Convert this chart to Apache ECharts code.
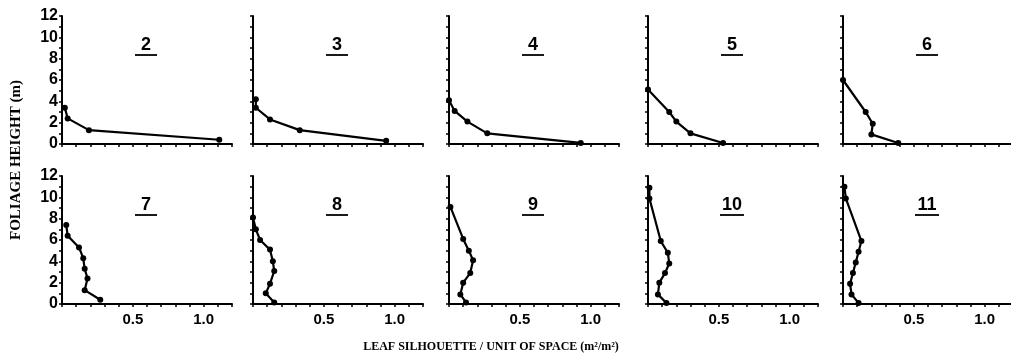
<!DOCTYPE html>
<html>
<head>
<meta charset="utf-8">
<script src="https://cdn.jsdelivr.net/npm/echarts@6/dist/echarts.min.js"></script>
<style>
  html, body { margin: 0; padding: 0; background: #fff; }
  #chart { width: 1011px; height: 355px; }
</style>
</head>
<body>
<div id="chart"></div>
<script>
// panel numbers, in reading order (top row then bottom row)
var panelNames = ['2', '3', '4', '5', '6', '7', '8', '9', '10', '11']

// [leaf silhouette, height (m)], top point first
var panel2 = [[0.02, 3.4], [0.04, 2.4], [0.19, 1.3], [1.11, 0.4]]
var panel3 = [[0.02, 4.2], [0.02, 3.4], [0.12, 2.3], [0.33, 1.3], [0.94, 0.3]]
var panel4 = [[0.0, 4.1], [0.04, 3.1], [0.13, 2.1], [0.27, 1.0], [0.93, 0.1]]
var panel5 = [[0.0, 5.1], [0.15, 3.0], [0.2, 2.1], [0.3, 1.0], [0.53, 0.1]]
var panel6 = [[0.0, 6.0], [0.16, 3.0], [0.21, 1.9], [0.2, 0.9], [0.39, 0.1]]
var panel7 = [[0.03, 7.4], [0.04, 6.4], [0.12, 5.3], [0.15, 4.3], [0.16, 3.3], [0.18, 2.4], [0.16, 1.3], [0.27, 0.4]]
var panel8 = [[0.0, 8.1], [0.02, 7.0], [0.05, 6.0], [0.12, 5.1], [0.14, 4.0], [0.15, 3.1], [0.12, 1.9], [0.09, 1.0], [0.15, 0.15]]
var panel9 = [[0.01, 9.1], [0.1, 6.1], [0.14, 5.0], [0.17, 4.1], [0.15, 2.9], [0.1, 2.0], [0.08, 0.9], [0.12, 0.15]]
var panel10 = [[0.01, 10.9], [0.01, 9.9], [0.09, 5.9], [0.14, 4.8], [0.15, 3.8], [0.12, 2.9], [0.08, 2.0], [0.07, 0.9], [0.13, 0.1]]
var panel11 = [[0.01, 11.0], [0.02, 9.9], [0.13, 5.9], [0.11, 4.9], [0.09, 3.9], [0.07, 2.9], [0.05, 1.9], [0.06, 0.9], [0.11, 0.1]]
var panels = [panel2, panel3, panel4, panel5, panel6, panel7, panel8, panel9, panel10, panel11]

var xLabelValues = [0.5, 1.0]
var yLabelValues = [0, 2, 4, 6, 8, 10, 12]

var xTitle = 'LEAF SILHOUETTE / UNIT OF SPACE (m²/m²)'
var yTitle = 'FOLIAGE HEIGHT (m)'

// layout
var lefts = [62, 253, 449, 648, 843]
var tops = [16, 176]
var gw = 170
var gh = 128
var ink = '#000'
var labelFont = 'Liberation Sans'
var titleFont = 'Liberation Serif'

var chart = echarts.init(document.getElementById('chart'))

var grids = []
var xAxes = []
var yAxes = []
var series = []
var graphics = []

panels.forEach(function(data, i) {
  var col = i % 5
  var row = Math.floor(i / 5)
  grids.push({
    left: lefts[col],
    top: tops[row],
    width: gw,
    height: gh,
    containLabel: false,
    outerBoundsMode: 'none'
  })
  xAxes.push({
    type: 'value',
    gridIndex: i,
    min: 0,
    max: 1.2,
    interval: 0.1,
    splitLine: { show: false },
    axisLine: { show: true, onZero: false, lineStyle: { color: ink, width: 2 } },
    axisTick: { show: true, length: 3, lineStyle: { color: ink, width: 1.5 } },
    axisLabel: {
      show: row === 1,
      margin: 8,
      color: ink,
      fontFamily: labelFont,
      fontWeight: 'bold',
      fontSize: 15,
      formatter: function(v) {
        for (var k = 0; k < xLabelValues.length; k++) {
          if (Math.abs(v - xLabelValues[k]) < 1e-6) return xLabelValues[k].toFixed(1)
        }
        return ''
      }
    }
  })
  yAxes.push({
    type: 'value',
    gridIndex: i,
    min: 0,
    max: 12,
    interval: 1,
    splitLine: { show: false },
    axisLine: { show: true, onZero: false, lineStyle: { color: ink, width: 2 } },
    axisTick: { show: true, length: 3, lineStyle: { color: ink, width: 1.5 } },
    axisLabel: {
      show: col === 0,
      margin: 4,
      color: ink,
      fontFamily: labelFont,
      fontWeight: 'bold',
      fontSize: 16,
      formatter: function(v) {
        return yLabelValues.indexOf(v) >= 0 ? String(v) : ''
      }
    }
  })
  series.push({
    type: 'line',
    xAxisIndex: i,
    yAxisIndex: i,
    data: data,
    symbol: 'circle',
    symbolSize: 6,
    animation: false,
    itemStyle: { color: ink },
    lineStyle: { color: ink, width: 2.2 }
  })
  // underlined panel number
  var cx = lefts[col] + 84
  var cy = tops[row] + 29
  graphics.push({
    type: 'text',
    x: cx,
    y: cy,
    style: {
      text: panelNames[i],
      fill: ink,
      font: 'bold 18px ' + labelFont,
      textAlign: 'center',
      textVerticalAlign: 'middle'
    }
  })
  var half = panelNames[i].length > 1 ? 12 : 11
  graphics.push({
    type: 'line',
    shape: { x1: cx - half, y1: cy + 10, x2: cx + half, y2: cy + 10 },
    style: { stroke: ink, lineWidth: 1.8 }
  })
})

graphics.push({
  type: 'text',
  x: 16,
  y: 160,
  rotation: Math.PI / 2,
  style: {
    text: yTitle,
    fill: ink,
    font: 'bold 15px ' + titleFont,
    textAlign: 'center',
    textVerticalAlign: 'middle'
  }
})
graphics.push({
  type: 'text',
  x: 491,
  y: 347,
  style: {
    text: xTitle,
    fill: ink,
    font: 'bold 12px ' + titleFont,
    textAlign: 'center',
    textVerticalAlign: 'middle'
  }
})

chart.setOption({
  backgroundColor: '#fff',
  animation: false,
  grid: grids,
  xAxis: xAxes,
  yAxis: yAxes,
  series: series,
  graphic: graphics
})
</script>
</body>
</html>
